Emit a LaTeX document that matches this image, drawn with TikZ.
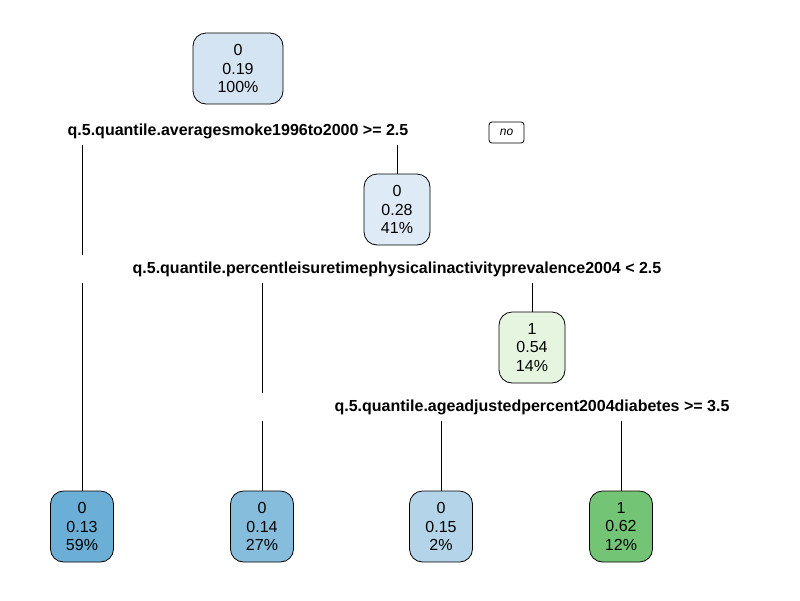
\documentclass[tikz,border=0pt]{standalone}
\usepackage{fontspec}
\setmainfont{Liberation Sans}
\pgfdeclarelayer{background}
\pgfsetlayers{background,main}
\definecolor{croot}{HTML}{D4E4F3}
\definecolor{cn2}{HTML}{DEEBF7}
\definecolor{cn3}{HTML}{E5F5E0}
\definecolor{cl1}{HTML}{6BAED6}
\definecolor{cl2}{HTML}{86BDDC}
\definecolor{cl3}{HTML}{B4D4E9}
\definecolor{cl4}{HTML}{74C476}
\begin{document}
\begin{tikzpicture}[x=1pt,y=-1pt,
  tnode/.style={draw=black, line width=0.8pt, rounded corners=13pt, align=center,
    font=\fontsize{16}{18.5}\selectfont, minimum height=71pt, inner sep=0pt},
  split/.style={fill=white, font=\bfseries\fontsize{16}{19}\selectfont,
    minimum height=28pt, inner ysep=0pt, text height=12pt, text depth=4pt},
  conn/.style={line width=0.8pt},
  tag/.style={draw=black, line width=0.8pt, rounded corners=3pt, fill=white,
    font=\itshape\fontsize{12}{14}\selectfont, minimum width=35pt, minimum height=21pt, inner sep=0pt}]
\useasboundingbox (0,0) rectangle (800,600);

% tree nodes
\node[tnode, fill=croot, minimum width=90pt] (root) at (238,68.5) {0\\0.19\\100\%};
\node[tnode, fill=cn2, minimum width=66pt] (n2) at (397,209.5) {0\\0.28\\41\%};
\node[tnode, fill=cn3, minimum width=66pt] (n3) at (532,347.5) {1\\0.54\\14\%};
\node[tnode, fill=cl1, minimum width=63pt] (l1) at (82,526.5) {0\\0.13\\59\%};
\node[tnode, fill=cl2, minimum width=63pt] (l2) at (262,526.5) {0\\0.14\\27\%};
\node[tnode, fill=cl3, minimum width=63pt] (l3) at (441,526.5) {0\\0.15\\2\%};
\node[tnode, fill=cl4, minimum width=63pt] (l4) at (621,526.5) {1\\0.62\\12\%};

% split labels
\node[split, inner xsep=10pt] (s1) at (238,131) {q.5.quantile.averagesmoke1996to2000 >= 2.5};
\node[split, inner xsep=60pt] (s2) at (397,269) {q.5.quantile.percentleisuretimephysicalinactivityprevalence2004 < 2.5};
\node[split, inner xsep=80pt] (s3) at (532,407) {q.5.quantile.ageadjustedpercent2004diabetes >= 3.5};

\node[tag] (no) at (506.5,132.5) {no};

% connectors
\begin{pgfonlayer}{background}
\fill[white] (0,0) rectangle (800,600);
\draw[conn] (l1.north) -- (l1.north |- s1.south);
\draw[conn] (n2.north) -- (n2.north |- s1.south);
\draw[conn] (l2.north) -- (l2.north |- s2.south);
\draw[conn] (n3.north) -- (n3.north |- s2.south);
\draw[conn] (l3.north) -- (l3.north |- s3.south);
\draw[conn] (l4.north) -- (l4.north |- s3.south);
\end{pgfonlayer}
\end{tikzpicture}
\end{document}
